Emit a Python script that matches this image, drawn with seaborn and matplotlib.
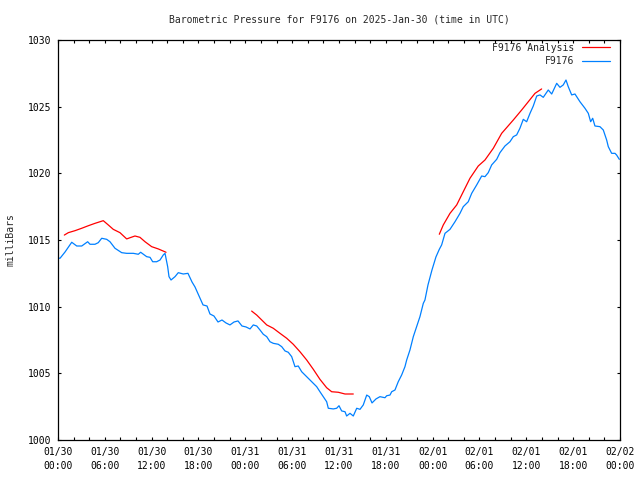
import numpy as np
import pandas as pd
import matplotlib
matplotlib.use("Agg")
import matplotlib.pyplot as plt
import matplotlib.dates as mdates
from matplotlib.lines import Line2D
import seaborn as sns

# ---- data (hours after 2025-01-30 00:00 UTC, pressure in mb) ----
obs_hours = [0.00, 0.26, 0.90, 1.76, 2.40, 3.04, 3.80, 4.10, 4.74, 5.16, 5.60, 6.24, 6.66, 7.30,
             8.16, 8.80, 9.65, 10.29, 10.59, 10.93, 11.36, 11.79, 12.13, 12.64, 13.07, 13.49, 13.71,
             14.05, 14.22, 14.48, 14.99, 15.41, 16.05, 16.65, 17.17, 17.55, 18.19, 18.58, 19.09,
             19.47, 19.98, 20.50, 21.01, 21.52, 22.03, 22.55, 23.06, 23.57, 24.08, 24.60, 25.02,
             25.46, 25.88, 26.30, 26.74, 27.16, 27.58, 28.22, 28.66, 29.08, 29.50, 29.94, 30.36,
             30.78, 31.22, 31.86, 32.50, 33.14, 33.56, 33.99, 34.42, 34.63, 35.27, 35.70, 36.00,
             36.34, 36.77, 36.98, 37.41, 37.83, 38.27, 38.69, 39.11, 39.55, 39.88, 40.23, 40.74,
             41.25, 41.89, 42.11, 42.53, 42.75, 43.17, 43.59, 44.03, 44.45, 44.67, 45.09, 45.52,
             45.95, 46.37, 46.80, 47.01, 47.40, 47.91, 48.42, 48.85, 49.15, 49.58, 50.22, 50.86,
             51.50, 51.92, 52.56, 53.00, 53.64, 54.28, 54.70, 55.12, 55.56, 56.20, 56.62, 57.26,
             57.90, 58.33, 58.76, 59.18, 59.61, 60.04, 60.47, 60.89, 61.33, 61.75, 62.17, 62.81,
             63.25, 63.89, 64.31, 64.73, 65.08, 65.37, 65.81, 66.23, 66.87, 67.51, 67.94, 68.24,
             68.50, 68.79, 69.43, 69.86, 70.29, 70.50, 70.93, 71.36, 71.57, 71.91]
obs_mb = [1013.65, 1013.63, 1014.10, 1014.83, 1014.55, 1014.55, 1014.87, 1014.68, 1014.68, 1014.80,
          1015.13, 1015.05, 1014.87, 1014.38, 1014.05, 1014.00, 1014.00, 1013.93, 1014.08, 1013.93,
          1013.75, 1013.70, 1013.37, 1013.37, 1013.50, 1013.88, 1014.00, 1013.00, 1012.25, 1012.00,
          1012.25, 1012.55, 1012.45, 1012.50, 1011.85, 1011.48, 1010.65, 1010.13, 1010.05, 1009.45,
          1009.30, 1008.85, 1009.00, 1008.78, 1008.63, 1008.85, 1008.93, 1008.55, 1008.48, 1008.33,
          1008.63, 1008.55, 1008.25, 1007.93, 1007.75, 1007.37, 1007.25, 1007.18, 1007.00, 1006.68,
          1006.58, 1006.25, 1005.50, 1005.55, 1005.12, 1004.75, 1004.37, 1004.00, 1003.62, 1003.25,
          1002.87, 1002.38, 1002.33, 1002.38, 1002.57, 1002.18, 1002.12, 1001.80, 1002.00, 1001.80,
          1002.38, 1002.30, 1002.63, 1003.37, 1003.25, 1002.78, 1003.08, 1003.25, 1003.17, 1003.32,
          1003.37, 1003.62, 1003.75, 1004.37, 1004.88, 1005.50, 1006.00, 1006.75, 1007.75, 1008.50,
          1009.25, 1010.25, 1010.50, 1011.63, 1012.75, 1013.73, 1014.30, 1014.63, 1015.50, 1015.80,
          1016.37, 1017.00, 1017.50, 1017.87, 1018.50, 1019.13, 1019.80, 1019.75, 1020.05, 1020.63,
          1021.05, 1021.55, 1022.05, 1022.37, 1022.75, 1022.88, 1023.38, 1024.05, 1023.87, 1024.50,
          1025.05, 1025.80, 1025.88, 1025.70, 1026.25, 1025.95, 1026.75, 1026.45, 1026.63, 1027.00,
          1026.50, 1025.88, 1025.95, 1025.37, 1024.88, 1024.50, 1023.87, 1024.13, 1023.55, 1023.50,
          1023.25, 1022.50, 1022.00, 1021.50, 1021.50, 1021.37, 1021.05]

ana_hours = [0.81, 1.32, 2.18, 3.04, 3.88, 4.74, 5.38, 5.80, 6.44, 7.08, 7.94, 8.80, 9.22, 9.86,
             10.50, 11.15, 12.00, 12.85, 13.84,
             24.81, 25.46, 26.10, 26.74, 27.58, 28.44, 29.30, 30.14, 31.00, 31.86, 32.71, 33.56,
             34.42, 35.06, 35.91, 36.77, 37.83,
             48.85, 49.36, 50.22, 51.08, 51.92, 52.78, 53.84, 54.70, 55.77, 56.84, 58.33, 59.40,
             60.25, 61.11, 61.96]
ana_mb = [1015.37, 1015.55, 1015.70, 1015.88, 1016.07, 1016.25, 1016.37, 1016.45, 1016.13, 1015.80,
          1015.55, 1015.08, 1015.17, 1015.30, 1015.20, 1014.87, 1014.50, 1014.33, 1014.08,
          1009.67, 1009.37, 1009.00, 1008.63, 1008.38, 1008.00, 1007.63, 1007.18, 1006.62, 1006.00,
          1005.30, 1004.55, 1003.92, 1003.62, 1003.58, 1003.45, 1003.45,
          1015.43, 1016.13, 1017.00, 1017.63, 1018.62, 1019.63, 1020.55, 1021.00, 1021.88, 1023.00,
          1024.00, 1024.75, 1025.37, 1026.00, 1026.33]
ana_segment = [1] * 19 + [2] * 17 + [3] * 15

title = "Barometric Pressure for F9176 on 2025-Jan-30 (time in UTC)"
ylabel = "milliBars"
series_names = ["F9176 Analysis", "F9176"]
colors = ["#ff0000", "#0080ff"]

base = pd.Timestamp("2025-01-30 00:00")
df_obs = pd.DataFrame({"time": base + pd.to_timedelta(obs_hours, unit="h"), "mb": obs_mb})
df_ana = pd.DataFrame({"time": base + pd.to_timedelta(ana_hours, unit="h"), "mb": ana_mb,
                       "seg": ana_segment})

sns.set_style("white")
plt.rcParams["font.family"] = ["DejaVu Sans Mono"]
plt.rcParams["font.size"] = 7

fig = plt.figure(figsize=(6.4, 4.8), dpi=100)
ax = fig.add_axes([58 / 640, 40 / 480, 562 / 640, 400 / 480])

lw = 0.9
sns.lineplot(data=df_ana, x="time", y="mb", units="seg", estimator=None, sort=False,
             color=colors[0], linewidth=lw, ax=ax)
sns.lineplot(data=df_obs, x="time", y="mb", estimator=None, sort=False,
             color=colors[1], linewidth=lw, ax=ax)

ax.set_xlim(base, base + pd.Timedelta(hours=72))
ax.set_ylim(1000, 1030)
ax.set_yticks(np.arange(1000, 1031, 5))
ax.xaxis.set_major_locator(mdates.HourLocator(byhour=range(0, 24, 6)))
ax.xaxis.set_minor_locator(mdates.HourLocator(byhour=range(0, 24, 2)))
ax.xaxis.set_major_formatter(mdates.DateFormatter("%m/%d\n%H:%M"))

for sp in ax.spines.values():
    sp.set_visible(True)
    sp.set_color("black")
    sp.set_linewidth(0.9)

ax.tick_params(axis="both", which="both", direction="in", length=2.3, width=0.8,
               top=True, right=True, bottom=True, left=True, color="black",
               labelsize=7, labelcolor="black")
ax.tick_params(axis="x", which="major", pad=5)
ax.tick_params(axis="y", which="major", pad=4.5)

ax.set_xlabel("")
ax.set_ylabel(ylabel, fontsize=7, labelpad=9)
ax.set_title(title, fontsize=7, pad=12.5)
ax.grid(False)

handles = [Line2D([], [], color=c, linewidth=lw) for c in colors]
ax.legend(handles, series_names, loc="upper right", frameon=False, markerfirst=False,
          fontsize=7, handlelength=2.9, handletextpad=0.75, labelspacing=0.35,
          borderaxespad=0.3, borderpad=0.2, bbox_to_anchor=(1 - 5 / 562, 1 + 2 / 400))

fig.canvas.draw()
plt.setp(ax.get_xticklabels(), linespacing=1.45)
fig.savefig("out.png", dpi=100)
